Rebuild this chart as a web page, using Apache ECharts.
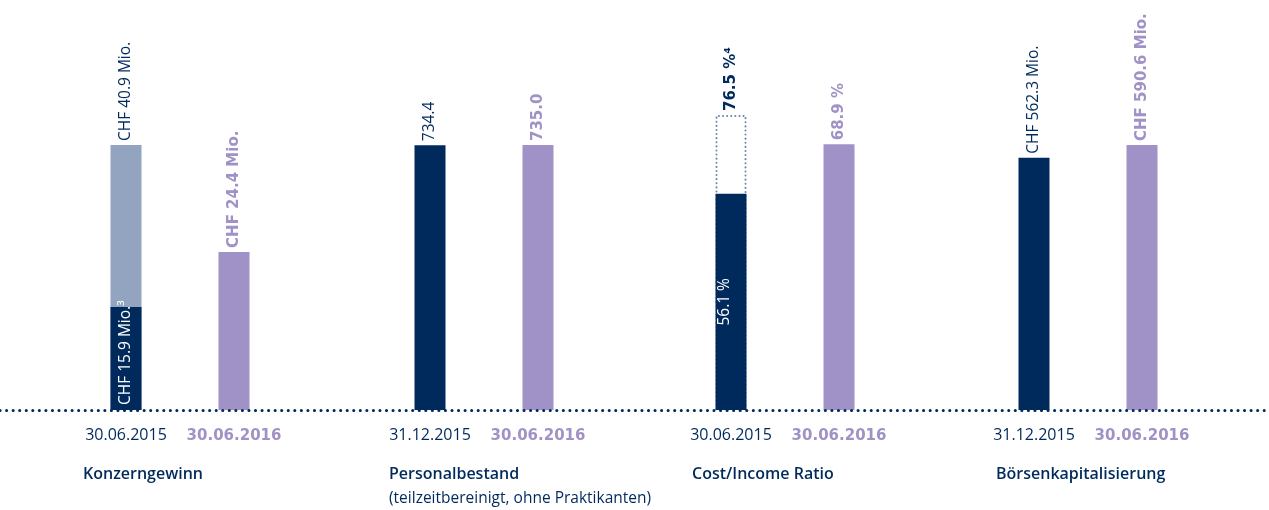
<!DOCTYPE html>
<html>
<head>
<meta charset="utf-8">
<script src="https://cdn.jsdelivr.net/npm/echarts@6/dist/echarts.min.js"></script>
<style>
html,body{margin:0;padding:0;background:#fff;}
#chart{width:1269px;height:510px;}
</style>
</head>
<body>
<div id="chart"></div>
<script>
// ---- data ----
const groupTitles = ['Konzerngewinn', 'Personalbestand', 'Cost/Income Ratio', 'Börsenkapitalisierung'];
const groupSubtitles = ['', '(teilzeitbereinigt, ohne Praktikanten)', '', ''];
const dates = [
  ['30.06.2015', '30.06.2016'],
  ['31.12.2015', '30.06.2016'],
  ['30.06.2015', '30.06.2016'],
  ['31.12.2015', '30.06.2016']
];
const mainValues = [
  [40.9, 24.4],
  [734.4, 735.0],
  [76.5, 68.9],
  [562.3, 590.6]
];
const innerValues = [
  [15.9, null],
  [null, null],
  [56.1, null],
  [null, null]
];
const mainLabels = [
  ['CHF 40.9 Mio.', 'CHF 24.4 Mio.'],
  ['734.4', '735.0'],
  ['76.5 %⁴', '68.9 %'],
  ['CHF 562.3 Mio.', 'CHF 590.6 Mio.']
];
const innerLabels = [
  ['CHF 15.9 Mio.³', ''],
  ['', ''],
  ['56.1 %', ''],
  ['', '']
];

// ---- styles / layout ----
const DARK = '#002a5c';
const LIGHT = '#93a4c0';
const PURPLE = '#a092c6';
const DOTTED = '#6a86b3';
const FONT = '"Open Sans", "Noto Sans", sans-serif';
const BOLDFONT = '"DejaVu Sans", "Open Sans", sans-serif';
const firstBarKind = ['light', 'dark', 'outline', 'dark'];
const firstLabelBold = [false, false, true, false];
const gridLefts = [72, 376, 677, 980];
const gridTops = [145, 145, 115, 145];
const titleLefts = [83, 389, 692, 996];

const grids = [], xAxes = [], yAxes = [], series = [], titles = [];

function firstBarStyle(kind) {
  if (kind === 'light') return { color: LIGHT };
  if (kind === 'outline') return {
    color: 'rgba(0,0,0,0)', borderColor: DOTTED, borderWidth: 2,
    borderType: [0.1, 4], borderCap: 'round'
  };
  return { color: DARK };
}

for (let g = 0; g < 4; g++) {
  grids.push({ left: gridLefts[g], width: 216, top: gridTops[g], bottom: 100, containLabel: false });
  xAxes.push({
    gridIndex: g, type: 'category', data: dates[g],
    axisLine: { show: false }, axisTick: { show: false },
    axisLabel: {
      interval: 0, hideOverlap: false,
      margin: 14, fontFamily: FONT,
      formatter: (v, i) => i === 0 ? '{a|' + v + '}' : '{b|' + v + '}',
      rich: {
        a: { fontFamily: FONT, fontSize: 16, color: DARK, lineHeight: 22 },
        b: { fontFamily: BOLDFONT, fontSize: 15, color: PURPLE, fontWeight: 'bold', lineHeight: 22, padding: [2, 0, 0, 0] }
      }
    }
  });
  yAxes.push({ gridIndex: g, type: 'value', min: 0, max: 'dataMax', show: false, splitLine: { show: false } });

  const mainData = mainValues[g].map((v, i) => ({
    value: v,
    itemStyle: i === 0 ? firstBarStyle(firstBarKind[g]) : { color: PURPLE },
    label: i === 0
      ? (firstLabelBold[g]
          ? { color: DARK, fontWeight: 'bold', fontFamily: BOLDFONT, fontSize: 15 }
          : { color: DARK, fontWeight: 'normal', fontFamily: FONT, fontSize: 15.5 })
      : { color: PURPLE, fontWeight: 'bold', fontFamily: BOLDFONT, fontSize: 15 }
  }));
  series.push({
    type: 'bar', xAxisIndex: g, yAxisIndex: g, barWidth: 31, barGap: '-100%', z: 2,
    data: mainData,
    label: {
      show: true, position: 'top', rotate: 90, align: 'left', verticalAlign: 'middle',
      distance: 4, fontFamily: FONT, fontSize: 15.5,
      formatter: p => mainLabels[g][p.dataIndex]
    }
  });
  const hasInner = innerValues[g].some(v => v != null);
  if (hasInner) {
    series.push({
      type: 'bar', xAxisIndex: g, yAxisIndex: g, barWidth: 31, barGap: '-100%', z: 3,
      data: innerValues[g],
      itemStyle: g === 2 ? { color: DARK, borderColor: DARK, borderWidth: 2 } : { color: DARK },
      label: {
        show: true, rotate: 90, fontFamily: FONT, fontSize: 15.5, color: '#ffffff',
        position: g === 0 ? 'insideBottom' : 'inside',
        align: g === 0 ? 'left' : 'center', verticalAlign: 'middle',
        distance: 5, offset: g === 2 ? [0, -6] : [0, 0],
        formatter: p => innerLabels[g][p.dataIndex]
      }
    });
  }
  titles.push({
    text: groupTitles[g], subtext: groupSubtitles[g],
    left: titleLefts[g], top: 466, padding: 0, itemGap: 9,
    textStyle: { fontFamily: FONT, fontSize: 16, fontWeight: 600, color: DARK },
    subtextStyle: { fontFamily: FONT, fontSize: 15.5, color: DARK }
  });
}

// dotted baseline
grids.push({ left: 0, right: 0, bottom: 100, height: 1 });
xAxes.push({
  gridIndex: 4, type: 'value', min: 0, max: 1,
  axisLine: { show: true, lineStyle: { color: DARK, width: 3, type: [0.1, 6.45], cap: 'round' } },
  axisTick: { show: false }, axisLabel: { show: false }, splitLine: { show: false }, z: 10
});
yAxes.push({ gridIndex: 4, type: 'value', show: false, splitLine: { show: false } });

const chart = echarts.init(document.getElementById('chart'), null, { renderer: 'canvas' });
chart.setOption({
  animation: false,
  backgroundColor: '#ffffff',
  title: titles,
  grid: grids,
  xAxis: xAxes,
  yAxis: yAxes,
  series: series
});
</script>
</body>
</html>
